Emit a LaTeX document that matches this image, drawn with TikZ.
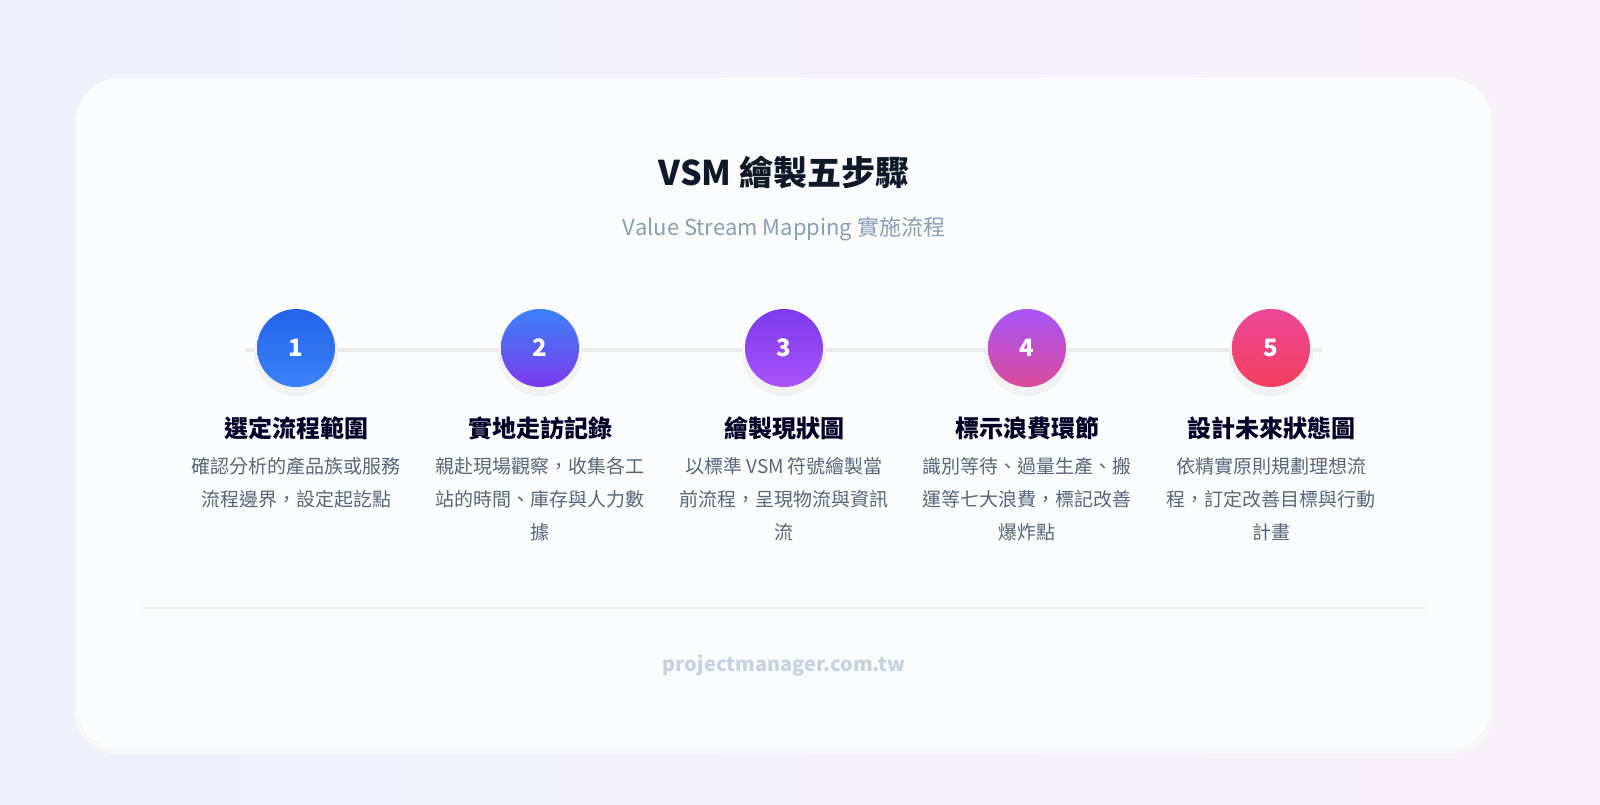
\documentclass[tikz,border=0pt]{standalone}
\usepackage{fontspec}
\setmainfont{Noto Sans CJK TC}
\begin{document}
\begin{tikzpicture}[x=1pt,y=-1pt,
  stepcirc/.style={circle,minimum size=78pt,inner sep=0pt,text=white,font=\fontsize{24}{24}\selectfont\bfseries},
  steptitle/.style={font=\fontsize{24}{28}\selectfont\bfseries,text=black!85!blue},
  stepdesc/.style={font=\fontsize{19}{33}\selectfont,text=descc,align=center}]
\definecolor{descc}{HTML}{5A6677}
\definecolor{subc}{HTML}{8E9DB2}
\definecolor{footc}{HTML}{C9D2DF}
\definecolor{titc}{HTML}{111827}
\definecolor{bgl}{HTML}{EEF1FA}
\definecolor{bgr}{HTML}{F8F0F8}
\definecolor{cardc}{HTML}{FBFCFE}
\useasboundingbox (0,0) rectangle (1600,804);
\clip (0,0) rectangle (1600,804);
\shade[left color=bgl,right color=bgr] (0,0) rectangle (1600,804);
\fill[black!3,rounded corners=44pt] (74,80) rectangle (1494,754);
\fill[cardc,rounded corners=40pt] (78,78) rectangle (1490,748);
\node[font=\fontsize{34}{34}\selectfont\bfseries,text=titc] (title) at (784,172) {VSM 繪製五步驟};
\node[font=\fontsize{22}{22}\selectfont,text=subc] (sub) at (784,229) {Value Stream Mapping 實施流程};
\coordinate (la) at (245,350); \coordinate (lb) at (1322,350);
\draw[line width=4pt,black!8] (la) -- (lb);
\definecolor{c1a}{HTML}{2563EB}\definecolor{c1b}{HTML}{3B82F6}
\definecolor{c2a}{HTML}{3B82F6}\definecolor{c2b}{HTML}{7C3AED}
\definecolor{c3a}{HTML}{7C3AED}\definecolor{c3b}{HTML}{A855F7}
\definecolor{c4a}{HTML}{A855F7}\definecolor{c4b}{HTML}{DB4B9A}
\definecolor{c5a}{HTML}{EC4899}\definecolor{c5b}{HTML}{F43F5E}
\foreach \i/\x/\t/\d in {
 1/296/選定流程範圍/{確認分析的產品族或服務\\流程邊界，設定起訖點},
 2/540/實地走訪記錄/{親赴現場觀察，收集各工\\站的時間、庫存與人力數\\據},
 3/784/繪製現狀圖/{以標準 VSM 符號繪製當\\前流程，呈現物流與資訊\\流},
 4/1027/標示浪費環節/{識別等待、過量生產、搬\\運等七大浪費，標記改善\\爆炸點},
 5/1271/設計未來狀態圖/{依精實原則規劃理想流\\程，訂定改善目標與行動\\計畫}}{
  \fill[black!5] (\x,354) circle (42pt);
  \node[stepcirc,top color=c\i a,bottom color=c\i b] (c\i) at (\x,348) {\i};
  \node[steptitle] (t\i) at (\x,428) {\t};
  \node[stepdesc,anchor=north] (d\i) at (\x,454) {\d};
}
\coordinate (da) at (143,608); \coordinate (db) at (1425,608);
\draw[line width=1.5pt,black!7] (da) -- (db);
\node[font=\fontsize{20}{20}\selectfont\bfseries,text=footc] (foot) at (784,666) {projectmanager.com.tw};
\end{tikzpicture}
\end{document}
